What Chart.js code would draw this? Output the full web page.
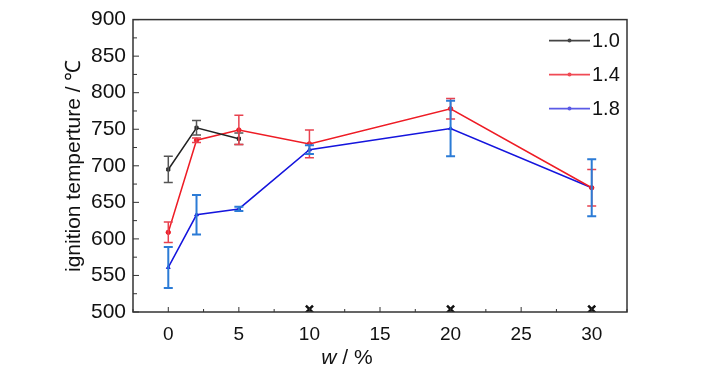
<!DOCTYPE html>
<html>
<head>
<meta charset="utf-8">
<script src="https://cdn.jsdelivr.net/npm/chart.js@4.4.1/dist/chart.umd.min.js"></script>
<style>
  html, body { margin: 0; padding: 0; background: #fff; }
</style>
</head>
<body>
<canvas id="ignitionChart" width="728" height="372"></canvas>
<script>
// w / % positions
const wValues = [0, 2, 5, 10, 20, 30];
// series 1.0 (only first three points)
const temp10 = [695, 752, 737];
const err10 = [18, 10, 8];
// series 1.4
const temp14 = [609, 735, 749, 730, 778, 670];
const err14 = [14, 3, 20, 19, 14, 25];
// series 1.8
const temp18 = [561, 633, 641, 722, 751, 670];
const err18 = [28, 27, 3, 6, 38, 39];
// cross marks on the x axis
const crossW = [10, 20, 30];
const crossT = [504, 504, 504];

const seriesLabels = ['1.0', '1.4', '1.8'];
const xTickValues = [0, 5, 10, 15, 20, 25, 30];
const yTickValues = [500, 550, 600, 650, 700, 750, 800, 850, 900];

const FONT = "'Liberation Sans', Arial, sans-serif";

function toPoints(xs, ys) {
  return ys.map((v, i) => ({ x: xs[i], y: v }));
}

const seriesStyle = [
  { line: '#222222', err: '#555555', legend: '#444444', marker: 'rect' },
  { line: '#ee1c25', err: '#e8424f', legend: '#f04a55', marker: 'circle' },
  { line: '#1515dd', err: '#2b7bd6', legend: '#5a5ae6', marker: 'triangle' }
];
const seriesTemps = [temp10, temp14, temp18];
const seriesErrs = [err10, err14, err18];

// error bars, frame, inside ticks, legend and x title
const extras = {
  id: 'extras',
  afterDatasetsDraw(chart) {
    const { ctx, scales: { x, y } } = chart;
    ctx.save();
    seriesTemps.forEach((temps, s) => {
      ctx.strokeStyle = seriesStyle[s].err;
      ctx.lineWidth = s === 2 ? 2 : 1.5;
      temps.forEach((t, i) => {
        const px = x.getPixelForValue(wValues[i]);
        const top = y.getPixelForValue(t + seriesErrs[s][i]);
        const bot = y.getPixelForValue(t - seriesErrs[s][i]);
        ctx.beginPath();
        ctx.moveTo(px, top); ctx.lineTo(px, bot);
        ctx.moveTo(px - 4.5, top); ctx.lineTo(px + 4.5, top);
        ctx.moveTo(px - 4.5, bot); ctx.lineTo(px + 4.5, bot);
        ctx.stroke();
      });
    });
    ctx.restore();
  },
  afterDraw(chart) {
    const { ctx, chartArea: a, scales: { x, y } } = chart;
    ctx.save();
    ctx.strokeStyle = '#333';
    ctx.lineWidth = 1.5;
    ctx.strokeRect(a.left, a.top, a.right - a.left, a.bottom - a.top);

    // major and minor ticks pointing inward
    ctx.lineWidth = 1;
    ctx.beginPath();
    xTickValues.forEach((v, i) => {
      const px = x.getPixelForValue(v);
      ctx.moveTo(px, a.bottom); ctx.lineTo(px, a.bottom - 5);
      if (i < xTickValues.length - 1) {
        const mx = x.getPixelForValue((v + xTickValues[i + 1]) / 2);
        ctx.moveTo(mx, a.bottom); ctx.lineTo(mx, a.bottom - 3);
      }
    });
    const mLeft = x.getPixelForValue(xTickValues[0] - 2.5);
    ctx.moveTo(mLeft, a.bottom); ctx.lineTo(mLeft, a.bottom - 3);
    const mRight = x.getPixelForValue(xTickValues[xTickValues.length - 1] + 2.5);
    ctx.moveTo(mRight, a.bottom); ctx.lineTo(mRight, a.bottom - 3);
    yTickValues.forEach((v, i) => {
      const py = y.getPixelForValue(v);
      ctx.moveTo(a.left, py); ctx.lineTo(a.left + 6, py);
      if (i < yTickValues.length - 1) {
        const my = y.getPixelForValue((v + yTickValues[i + 1]) / 2);
        ctx.moveTo(a.left, my); ctx.lineTo(a.left + 4, my);
      }
    });
    ctx.stroke();

    // legend, top right inside the frame
    seriesLabels.forEach((lab, s) => {
      const ly = a.top + 21 + s * 34;
      const x0 = a.right - 78, x1 = a.right - 37;
      ctx.strokeStyle = seriesStyle[s].legend;
      ctx.lineWidth = 1.8;
      ctx.beginPath();
      ctx.moveTo(x0, ly); ctx.lineTo(x1, ly);
      ctx.stroke();
      ctx.fillStyle = seriesStyle[s].legend;
      ctx.beginPath();
      ctx.arc((x0 + x1) / 2, ly, 2, 0, Math.PI * 2);
      ctx.fill();
      ctx.fillStyle = '#111';
      ctx.font = '20px ' + FONT;
      ctx.textBaseline = 'middle';
      ctx.textAlign = 'left';
      ctx.fillText(lab, x1 + 2, ly + 1);
    });

    // x title: italic w / %
    ctx.fillStyle = '#111';
    ctx.textBaseline = 'middle';
    ctx.textAlign = 'left';
    const italic = 'italic 21px ' + FONT;
    const plain = '21px ' + FONT;
    ctx.font = italic;
    const wW = ctx.measureText('w').width;
    ctx.font = plain;
    const rW = ctx.measureText(' / %').width;
    const cx = (a.left + a.right) / 2 - 33;
    const ty = 358;
    ctx.font = italic;
    ctx.fillText('w', cx - (wW + rW) / 2, ty);
    ctx.font = plain;
    ctx.fillText(' / %', cx - (wW + rW) / 2 + wW, ty);
    ctx.restore();
  }
};

const datasets = seriesTemps.map((temps, s) => ({
  label: seriesLabels[s],
  data: toPoints(wValues, temps),
  borderColor: seriesStyle[s].line,
  backgroundColor: seriesStyle[s].line,
  borderWidth: 1.5,
  pointStyle: seriesStyle[s].marker,
  pointRadius: 2.2,
  pointBorderWidth: 1,
  tension: 0,
  showLine: true
}));
datasets.push({
  label: 'marks',
  data: toPoints(crossW, crossT),
  borderColor: '#111',
  backgroundColor: '#111',
  pointStyle: 'crossRot',
  pointRadius: 5,
  pointBorderWidth: 2.5,
  showLine: false
});

new Chart(document.getElementById('ignitionChart').getContext('2d'), {
  type: 'scatter',
  data: { datasets: datasets },
  plugins: [extras],
  options: {
    responsive: false,
    animation: false,
    devicePixelRatio: 1,
    layout: { padding: { left: 62, right: 101, top: 17, bottom: 0 } },
    plugins: {
      legend: { display: false },
      tooltip: { enabled: false }
    },
    scales: {
      x: {
        type: 'linear',
        min: -2.5,
        max: 32.5,
        afterBuildTicks: (scale) => { scale.ticks = xTickValues.map(v => ({ value: v })); },
        afterFit: (scale) => { scale.height = 60; },
        grid: { display: false, drawTicks: false },
        border: { display: false },
        ticks: {
          autoSkip: false,
          maxRotation: 0,
          padding: 11,
          color: '#111',
          font: { family: FONT, size: 19 }
        }
      },
      y: {
        type: 'linear',
        min: 500,
        max: 900,
        afterBuildTicks: (scale) => { scale.ticks = yTickValues.map(v => ({ value: v })); },
        afterFit: (scale) => { scale.width = 71; },
        grid: { display: false, drawTicks: false },
        border: { display: false },
        title: {
          display: true,
          text: 'ignition temperture / ℃',
          color: '#111',
          padding: 0,
          font: { family: FONT, size: 21 }
        },
        ticks: {
          padding: 7,
          color: '#111',
          font: { family: FONT, size: 21 }
        }
      }
    }
  }
});
</script>
</body>
</html>
